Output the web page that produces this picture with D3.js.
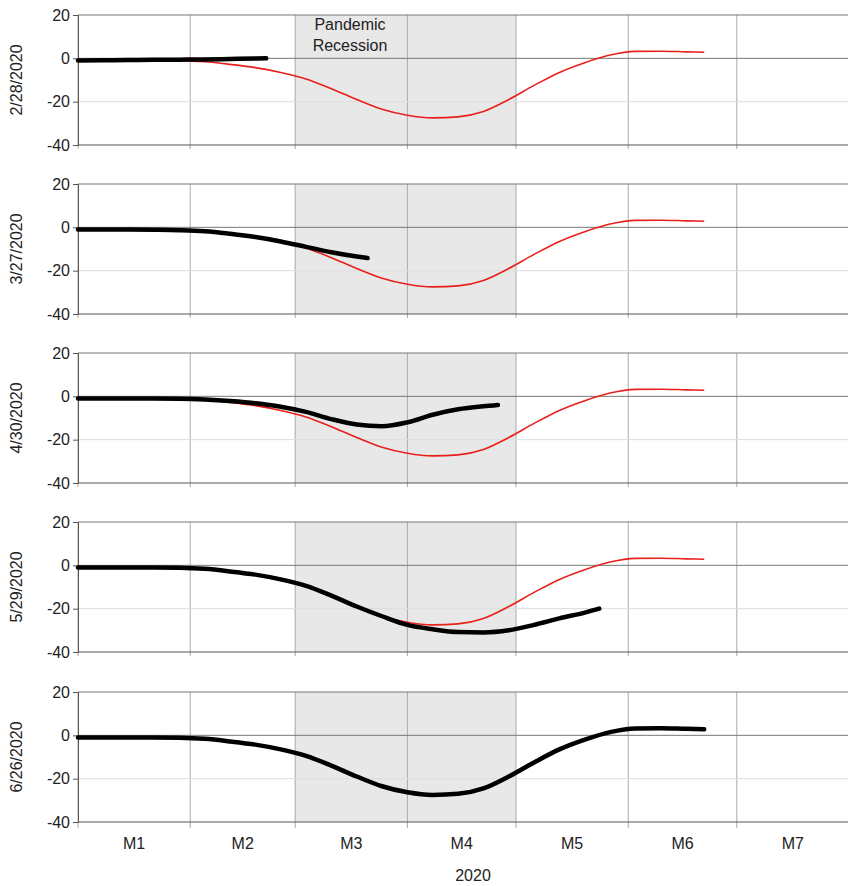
<!DOCTYPE html>
<html><head><meta charset="utf-8">
<script src="https://cdn.jsdelivr.net/npm/d3@7"></script>
<style>body{margin:0;background:#fff}svg{font-family:"Liberation Sans",Arial,sans-serif}</style>
</head><body><svg id="c" width="848" height="886"></svg>
<script>
const weeks = ["2020-01-01","2020-01-08","2020-01-15","2020-01-22","2020-01-29","2020-02-05","2020-02-12","2020-02-19","2020-02-26","2020-03-04","2020-03-11","2020-03-18","2020-03-25","2020-04-01","2020-04-08","2020-04-15","2020-04-22","2020-04-29","2020-05-06","2020-05-13","2020-05-20","2020-05-27","2020-06-03","2020-06-10","2020-06-17"];
const finalValues = [-1,-1,-1,-1,-1.1,-1.6,-2.8,-4.3,-6.5,-9.5,-14,-19,-23.5,-26.3,-27.5,-27,-24.5,-19,-12.5,-6.5,-2,1.5,3.2,3.3,3,2.8];
const v0228 = [-1,-0.9,-0.8,-0.7,-0.6,-0.5,-0.3,-0.1,0];
const v0327 = [-1,-1,-1,-1.1,-1.3,-1.8,-3,-4.5,-6.5,-9,-11.5,-13.5,-14.2];
const v0430 = [-1,-1,-1,-1,-1.1,-1.5,-2.2,-3.2,-4.8,-7.2,-10.5,-13,-13.8,-12,-8.5,-6,-4.6,-4];
const v0529 = [-1,-1,-1,-1,-1.1,-1.6,-2.8,-4.3,-6.5,-9.5,-14,-19,-23.5,-27.5,-29.5,-30.8,-31,-30,-27.5,-24.5,-21.8,-20];
const lastDates = ["2020-02-22","2020-03-21","2020-04-26","2020-05-24","2020-06-22"];
const vintageLabels = ["2/28/2020","3/27/2020","4/30/2020","5/29/2020","6/26/2020"];
const vintageValues = [v0228, v0327, v0430, v0529, finalValues];
const monthLabels = ["M1","M2","M3","M4","M5","M6","M7"];
const yTicks = [20,0,-20,-40];
const recession = ["2020-03-01","2020-05-01"];

const svg = d3.select("#c");
const parse = d3.utcParse("%Y-%m-%d");
const x = d3.scaleUtc().domain([parse("2020-01-01"), parse("2020-08-01")]).range([78, 849]);
const tops = [15,184,353,522,692], H = 130;
const datesFor = (vals, k) => weeks.slice(0, vals.length-1).concat([lastDates[k]]).map(parse);
const line = (y, dates)=>d3.line().x((d,i)=>x(dates[i])).y(d=>y(d)).curve(d3.curveMonotoneX);
const months = d3.utcMonth.range(parse("2020-01-01"), parse("2020-08-02"));
const finalDates = datesFor(finalValues, 4);

vintageValues.forEach((vals,k)=>{
  const y = d3.scaleLinear().domain([-40,20]).range([tops[k]+H, tops[k]]);
  const g = svg.append("g");
  g.append("rect").attr("x",x(parse(recession[0]))).attr("width",x(parse(recession[1]))-x(parse(recession[0])))
    .attr("y",y(20)).attr("height",H).attr("fill","#e8e8e8");
  months.forEach(m=>{ g.append("line").attr("x1",x(m)).attr("x2",x(m)).attr("y1",y(20)).attr("y2",y(-40)+(k===4?6:4)).attr("stroke","#aaa").attr("stroke-width",1); });
  g.append("line").attr("x1",78).attr("x2",848).attr("y1",y(-20)).attr("y2",y(-20)).attr("stroke","#ddd");
  g.append("line").attr("x1",78).attr("x2",848).attr("y1",y(0)).attr("y2",y(0)).attr("stroke","#777");
  g.append("line").attr("x1",78).attr("x2",848).attr("y1",y(20)).attr("y2",y(20)).attr("stroke","#777");
  g.append("line").attr("x1",78).attr("x2",848).attr("y1",y(-40)).attr("y2",y(-40)).attr("stroke","#555");
  const ax = g.append("g").attr("transform","translate(78,0)").call(d3.axisLeft(y).tickValues(yTicks).tickSize(5).tickPadding(3).tickFormat(d=>String(d)));
  ax.select(".domain").attr("stroke","#555");
  ax.selectAll("line").attr("stroke","#555");
  ax.selectAll("text").attr("font-size",16).attr("fill","#222").attr("font-family","Liberation Sans, Arial");
  g.append("text").attr("transform",`translate(22,${tops[k]+H/2}) rotate(-90)`).attr("text-anchor","middle")
    .attr("font-size",16).attr("fill","#222").text(vintageLabels[k]);
  if(k<4) g.append("path").datum(finalValues).attr("d",line(y, finalDates)).attr("fill","none").attr("stroke","#e8201c").attr("stroke-width",1.6);
  g.append("path").datum(vals).attr("d",line(y, datesFor(vals,k))).attr("fill","none").attr("stroke","#000").attr("stroke-width",4.5).attr("stroke-linecap","round");
  if(k===0){
    const cx = 350;
    g.append("text").attr("x",cx).attr("y",30).attr("text-anchor","middle").attr("font-size",16).attr("fill","#222").text("Pandemic");
    g.append("text").attr("x",cx).attr("y",51).attr("text-anchor","middle").attr("font-size",16).attr("fill","#222").text("Recession");
  }
});
monthLabels.forEach((l,i)=>{
  const mid = new Date((months[i].getTime()+months[i+1].getTime())/2);
  svg.append("text").attr("x",x(mid)).attr("y",849).attr("text-anchor","middle").attr("font-size",16).attr("fill","#222").text(l);
});
svg.append("text").attr("x",473).attr("y",886-5).attr("text-anchor","middle").attr("font-size",16).attr("fill","#222").text("2020");
</script></body></html>
